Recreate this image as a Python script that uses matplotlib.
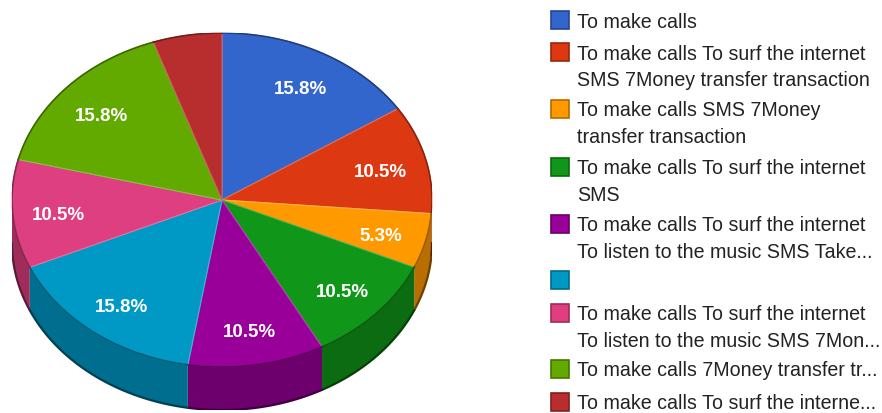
import numpy as np
import matplotlib
matplotlib.use("Agg")
import matplotlib.pyplot as plt
from matplotlib.patches import Polygon, Rectangle
from matplotlib.colors import to_rgb

# Parts of the pie, clockwise from the top
values = [15.8, 10.5, 5.3, 10.5, 10.5, 15.8, 10.5, 15.8, 5.3]
value_labels = ["15.8%", "10.5%", "5.3%", "10.5%", "10.5%", "15.8%", "10.5%", "15.8%", ""]
colors = ["#3366cc", "#dc3912", "#ff9900", "#109618", "#990099",
          "#0099c6", "#dd3f80", "#62aa00", "#b82e2e"]
legend_lines = [
    ["To make calls"],
    ["To make calls To surf the internet", "SMS 7Money transfer transaction"],
    ["To make calls SMS 7Money", "transfer transaction"],
    ["To make calls To surf the internet", "SMS"],
    ["To make calls To surf the internet", "To listen to the music SMS Take..."],
    [""],
    ["To make calls To surf the internet", "To listen to the music SMS 7Mon..."],
    ["To make calls 7Money transfer tr..."],
    ["To make calls To surf the interne..."],
]

W, H = 882, 414
CX, CY, RX, RY = 222, 201, 210, 167   # ellipse of the top face, in pixels
WALL = 43                             # wall height in pixels
DEPTH = WALL / RY

plt.rcParams["font.family"] = ["Liberation Sans", "DejaVu Sans"]
fig = plt.figure(figsize=(W / 100, H / 100), dpi=100)

# Pie axes: unit circle stretched onto the ellipse
ax = fig.add_axes([(CX - RX) / W, 1 - (CY + RY + WALL) / H, 2 * RX / W, (2 * RY + WALL) / H])


def darker(color, k):
    return tuple(c * k for c in to_rgb(color))


# Side wall, only the front half of the rim shows
edges = np.cumsum([0] + values) / sum(values) * 2 * np.pi
for i, color in enumerate(colors):
    a0 = max(edges[i], np.pi / 2)
    a1 = min(edges[i + 1], 3 * np.pi / 2)
    if a1 <= a0:
        continue
    t = np.linspace(a0, a1, 60)
    x, y = np.sin(t), np.cos(t)
    pts = np.vstack([np.column_stack([x, y]),
                     np.column_stack([x[::-1], y[::-1] - DEPTH])])
    ax.add_patch(Polygon(pts, closed=True, fc=darker(color, 0.72), ec="none", zorder=1))
    # darker rim along the bottom of the wall
    ax.plot(x, y - DEPTH, color=darker(color, 0.42), lw=1.6, zorder=2, solid_capstyle="round")

# Top face
wedges, _ = ax.pie(values, colors=colors, startangle=90, counterclock=False, radius=1,
                   wedgeprops={"linewidth": 0.8, "zorder": 3})
for w, color in zip(wedges, colors):
    w.set_edgecolor(tuple(c * 0.75 + 0.25 for c in to_rgb(color)))

# Dark outline on the back of the rim
for i, color in enumerate(colors):
    t = np.linspace(edges[i], edges[i + 1], 60)
    ax.plot(np.sin(t), np.cos(t), color=darker(color, 0.6), lw=1.2, zorder=4)

# Percent labels
for i, label in enumerate(value_labels):
    mid = (edges[i] + edges[i + 1]) / 2
    ax.text(0.78 * np.sin(mid), 0.78 * np.cos(mid) - 0.02, label, color="white", fontsize=13.5,
            fontweight="bold", ha="center", va="center", zorder=5)

ax.set_aspect("auto")
ax.set_xlim(-1, 1)
ax.set_ylim(-1 - DEPTH, 1)
ax.axis("off")

# Legend drawn in pixel coordinates
lax = fig.add_axes([0, 0, 1, 1])
lax.set_xlim(0, W)
lax.set_ylim(H, 0)
lax.axis("off")
lax.patch.set_alpha(0)

legend_y = [21, 53, 110, 168, 225, 281, 314, 370, 403]
for color, lines, y in zip(colors, legend_lines, legend_y):
    lax.add_patch(Rectangle((551, y - 9), 18, 18, fc=color, ec=darker(color, 0.7), lw=1.2))
    for k, line in enumerate(lines):
        lax.text(577, y + 1 + k * 26.5, line, fontsize=14.1, color="#222222", va="center", ha="left")

fig.savefig("out.png", dpi=100)
